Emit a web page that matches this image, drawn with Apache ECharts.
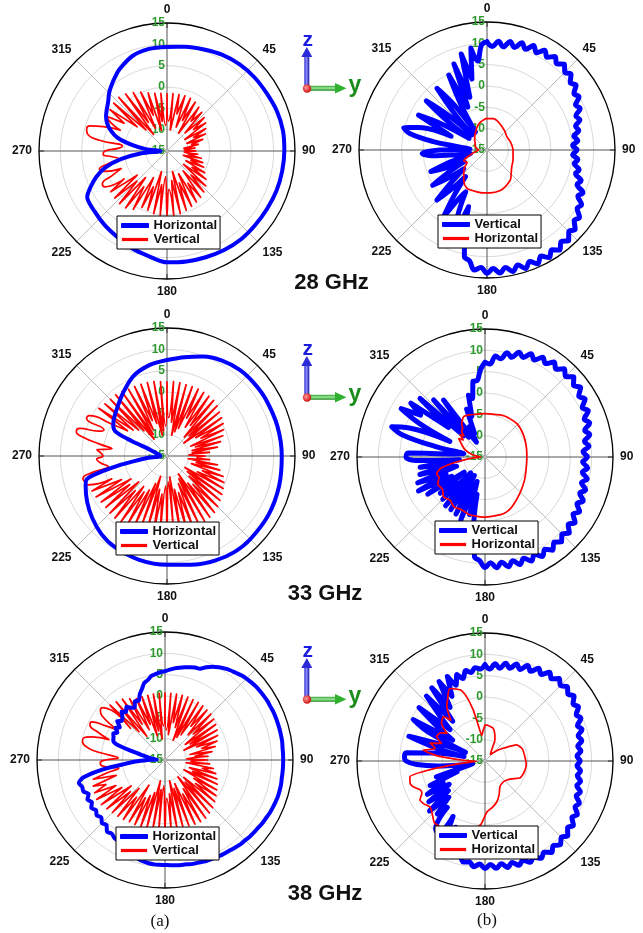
<!DOCTYPE html>
<html>
<head>
<meta charset="utf-8">
<script src="https://cdn.jsdelivr.net/npm/echarts@6.0.0/dist/echarts.min.js"></script>
<style>html,body{margin:0;padding:0;background:#fff}#main{width:643px;height:933px}</style>
</head>
<body>
<div id="main"></div>
<script>
// ---------- tick labels ----------
const angleLabels = ['0','45','90','135','180','225','270','315'];
const radialLabels = ['-15','-10','-5','0','5','10','15'];
const freqLabels = ['28 GHz','33 GHz','38 GHz'];
const panelLabels = ['(a)','(b)'];

// ---------- 28 GHz (a) ----------
const a28_hor_ang = [0,10,20,30,40,50,60,70,80,90,100,110,120,130,140,150,160,170,180,190,200,210,220,230,240,245,250,255,260,265,270,275,280,285,290,295,300,305,310,315,320,325,330,340,350,360];
const a28_hor_val = [9.4,9.8,10.3,11,11.5,11.8,12,12.4,12.6,12.5,12.4,12.3,12.1,12,12,11.8,11.5,11.3,11.1,10,9.2,8.3,7.7,7.1,6.6,4.7,2.6,0,-4,-9,-13.5,-10,-6.5,-3,-1,0.5,1.5,2.2,3,4.2,5.2,6.2,7.2,8.7,9.3,9.4];
// sampled every 3 deg
const a28_ver_val = [
 -1.6,-8,-1.5,-10,-1.5,-6,-1.4,-9,
 -1.5,-7,-1.8,-10,-2.3,-6,-2.8,-9,
 -3.3,-7,-3.8,-10,-4.5,-8,-5.2,-10,
 -6.2,-9,-7.5,-11,-8.4,-11,-8.2,-11,
 -7.7,-10,-6.8,-11,-6.2,-9,-5.6,-10,
 -4.8,-8,-3.7,-10,-2.8,-7,-2.1,-9,
 -1.6,-6,-1.2,-9,-0.8,-7,-0.4,-10,
 0,-8,0.1,-6,0.2,-9,0.2,-7,
 0,-10,-0.4,-6,-0.5,-8,0.8,-5,
 1.5,-7,1.6,-5,1.5,-6,1.3,-3,
 1.8,2,-1,-3.5,0.5,1.4,-1,-3.5,
 -2,0,-0.5,-3.5,-4.5,1,4,4.5,
 4,1,-3,0,1.2,-3,1.5,-6,
 1.8,-8,1.9,-10,1.5,-7,0.8,-9,
 0.1,-6,-0.7,-10,-1.2,-8,-1.4,-9];

// ---------- 28 GHz (b) ----------
// sampled every 3 deg
const b28_ver_val = [
 10.4,9.3,10.6,9.5,11,9.9,11.4,10.3,
 11.8,10.6,12,10.9,12.1,11,12.1,10.8,
 11.5,10.1,10.8,9.3,9.9,8.3,8.9,7.3,
 7.9,6.5,7,5.6,6.4,5.1,6.1,5.1,
 6.4,5.7,7.1,6.5,8.2,7.6,9.6,8.9,
 10.6,10.2,11.8,11.3,12.8,12.1,13.6,12.6,
 14,12.9,14.1,12.9,14.2,13,14.2,12.9,
 14.1,12.9,14,12.8,13.9,12.6,13.3,11.3,
 10.5,5,-1,6,2,-4,-2,3.7,
 -2,-7,-3,1.6,-4,-8,-4,0.2,
 -5,-9,-5,-0.9,-6,-10,-11,-8,
 -2,0.2,-4,-11,-9,-2,3.5,5.2,
 2,-6,-3,3,-3,-10,-4,3.3,
 -3,-10,-4,3.6,-2,-10,-3,4.7,
 -4,6.6,-2,8.3,2,9.2,6,9.6];
const b28_hor_ang = [0,12,20,33,45,56,70,90,110,124,135,142,152,162,175,189,200,208,216,225,232,238,245,252,260,270,280,290,300,310,320,330,340,348,355,360];
const b28_hor_val = [-7.6,-7.5,-7.8,-8.5,-9,-9.4,-9.2,-8.9,-8.5,-8,-7,-6.1,-5.5,-5,-4.9,-4.9,-4.9,-4.9,-5.8,-7.3,-8.3,-9.5,-9,-10.5,-12,-13,-12.5,-12,-11.8,-11.2,-10.6,-9.8,-8.8,-8.2,-7.8,-7.6];

// ---------- 33 GHz (a) ----------
const a33_hor_ang = [0,10,20,30,40,50,60,75,90,105,120,135,145,155,165,180,195,210,220,230,240,250,254,257,259,261,264,270,280,290,293,295,299,305,313,325,337,349,360];
const a33_hor_val = [7.5,8.5,9.8,10.8,11.4,11.6,11.7,11.8,11.9,12.2,12.5,12.6,12.5,12,11.3,10.5,10.2,9.6,8.9,7.8,6.6,5.3,4.5,0,-3.5,-7,-10,-13.5,-13,-11,-6,-2,-0.6,0.2,1.1,3,5.3,6.7,7.5];
// sampled every 2.5 deg
const a33_ver_val = [
 2.4,-6,2.5,-7,2.4,-10,2.3,-9,
 2.3,-8,2.3,-5,2.2,-7,2.1,-6,
 2,-9,1.6,-8,1,-10,0.6,-7,
 0.2,-6,-0.4,-9,-1.1,-8,-2,-9,
 -3,-9,-5,-10,-6,-8,-5,-10,
 -3,-8,-2.2,-9,-1,-6,-0.3,-7,
 0.2,-10,0.7,-9,1.2,-8,1.8,-6,
 2.3,-7,2.5,-10,2.6,-9,2.7,-8,
 2.8,-6,2.8,-7,2.8,-10,2.8,-9,
 2.8,-8,2.8,-6,2.9,-7,3,-10,
 3.1,-8,3.3,-6,3.5,-5,3.8,-6,
 4,-4,3.9,-6,3.7,-4,3.8,-5,
 4.2,-3,4.4,-1,4.8,5.2,5.4,3,
 -1,0,1,1.5,0,0.5,1.5,-2,
 1,5,7,6.5,2,1,5.8,5.5,
 0,-4,4.5,-5,4,-6,3.75,-7,
 3.7,-10,3.4,-9,3.1,-8,3,-6,
 2.9,-7,2.8,-10,2.7,-9,2.5,-8];

// ---------- 33 GHz (b) ----------
const b33_ver_val = [
 7.2,6.8,8.8,8.3,10,9.2,10.8,10,
 11.5,10.5,12,11.1,12.5,11.5,12.8,11.7,
 13,11.7,12.7,11.2,12.1,10.6,11.5,9.9,
 10.8,9.2,10.1,8.6,9.5,8,9,7.9,
 9.2,8.1,9.5,8.4,9.8,8.8,10.2,9.2,
 10.6,9.6,11.1,10.1,11.6,10.5,11.8,10.7,
 12,10.8,11.9,10.6,11.7,10.4,11.5,10.2,
 11.3,10,11.1,9.8,10.9,9.3,8.5,2,
 -6,-1,-9,0.9,-8,0,-10,-0.3,
 -7,-0.3,-10,-1,-6,-1.5,-9,1,
 -6,2.5,-5,1.9,-8,0.8,-7,0.4,
 -9,1,3.5,3,-8,-10,-3,5,
 8,4,-6,2,7.7,3,6.5,-4,
 5.5,-8,3,-9,1.5,-9,-11,-7,
 -9,-3,-5,0,-1,3,3,5.5];
const b33_hor_ang = [0,10,20,30,45,60,75,90,105,120,135,150,158,165,180,195,205,212,219,226,233,240,246,251,256,260,265,270,280,290,300,305,308,312,315,318,322,325,332,340,350,360];
const b33_hor_val = [-4.8,-4.8,-4.5,-4.3,-4.2,-4.6,-5,-5.2,-5,-4.3,-3.3,-1.9,-1.2,-1,-0.9,-1,-1.5,-1.2,-2,-1.5,-2.5,-2.2,-3.2,-3,-4.5,-8,-12,-14,-12,-10,-8.5,-7.5,-8.5,-7.2,-8,-6.8,-6.5,-5.5,-4.3,-4.5,-4.8,-4.8];

// ---------- 38 GHz (a) ----------
// sampled every 3 deg
const a38_hor_val = [
 5.8,6.2,6.6,6.9,7.2,7.5,7.8,7.9,
 8.8,9.5,10.1,10.6,11,11.3,11.7,12,
 12.2,12.4,12.5,12.6,12.7,12.7,12.8,12.8,
 12.8,12.8,12.8,12.8,12.7,12.7,12.7,12.7,
 12.7,12.7,12.8,12.8,12.8,12.7,12.6,12.5,
 12.3,12.2,12,11.9,11.8,11.6,11.5,11.3,
 11.1,11,10.9,10.7,10.6,10.5,10.3,10.2,
 10,9.9,9.8,9.7,9.6,9.6,9.6,9.5,
 9.3,9,8.6,8.1,7.6,7.9,7,6.8,
 6.3,6.6,5.5,5.9,5.1,5.6,5,5.6,
 4.8,5.4,4.6,5.5,5.4,5.9,4.5,0.4,
 -5,-8,-11,-13,-12,-11,-9.5,-7,
 -3,-2,-1.8,-1.4,-2.1,-1.2,-1.9,-0.6,
 -1.3,-0.9,0.2,-0.5,0.4,-0.4,-0.8,0.5,
 0.2,1.5,2.5,3.7,4.2,5,5.3,5.6];
// sampled every 2.5 deg
const a38_ver_val = [
 0.7,-8,0.7,-9,0.7,-6,0.7,-7,
 0.7,-10,0.6,-9,0.6,-8,0.5,-5,
 0.3,-7,0.2,-6,-0.1,-9,-0.5,-8,
 -0.9,-10,-1.4,-7,-2,-6,-2.8,-9,
 -3.8,-8,-4.8,-10,-5,-9,-4.5,-10,
 -3.5,-6,-2.7,-9,-2,-8,-1.5,-10,
 -1,-7,-0.4,-6,0.2,-9,0.8,-8,
 1.2,-10,1.6,-7,1.7,-6,1.6,-9,
 1.4,-8,1.2,-10,1.2,-7,1.3,-6,
 1.4,-9,1.5,-8,1.6,-10,1.7,-7,
 1.7,-6,1.7,-5,1.7,-8,2,-4,
 2.2,-6,2.4,-4,2.8,-5,3.2,-3,
 3.5,-2,3.2,0,2.9,-3,2.4,-1,
 -4,-2,0,0.2,-1,-4,-2,2,
 4,4.8,4.8,3,-1,2,4.4,4.4,
 1,-2,3,4.1,4.1,-4,3.2,-6,
 2.8,-8,2.4,-5,1.6,-7,0.9,-6,
 0.8,-9,0.7,-8,0.7,-10,0.7,-7];

// ---------- 38 GHz (b) ----------
const b38_ver_val = [
 7.6,6.6,7.9,7,8.4,7.5,8.9,8,
 9.5,8.6,10.1,9.2,10.7,9.8,11,10,
 11,10,10.8,9.6,10.3,9,9.6,8.2,
 8.9,7.6,8.2,7,7.6,6.6,7.3,6.6,
 7.5,6.9,7.9,7.3,8.5,7.9,9.2,8.7,
 10,9.3,10.6,9.9,11.1,10.3,11.4,10.5,
 11.5,10.5,11.3,10.3,11,9.9,10.7,9.6,
 10.5,9.4,10.3,9.3,10.2,9.2,9.9,8.9,
 9.2,7,3,7,2,5.5,0,5,
 4.7,-1,1.7,-3,2.5,-4,1.3,-5,
 0.6,-4,-0.9,-8,-3,-11,-12,-9,
 -4,1,3.5,3.9,3.5,-3,-10,-3,
 3.75,-5,-10,0,4.4,-6,-1,4.9,
 -4,0,5.5,-3,6.2,0,6.5,2,
 6.7,4,6.3,5,6.7,6,7,6.6];
const b38_hor_ang = [0,3,14,20,25,31,40,50,55,63,72,84,95,103,110,116,124,131,140,150,157,164,171,178,184,192,200,210,219,225,230,235,239,243,246,250,253,258,261,264,268,272,276,280,284,288,292,297,302,306,311,317,320,325,329,334,341,344,347,349,353,356,360];
const b38_hor_val = [-6.6,-6.6,-7.1,-8.3,-9.5,-12,-13,-11,-9.8,-6.7,-5.8,-5.6,-5.3,-5.4,-5.6,-5.9,-7.5,-8.2,-8.5,-8,-6.5,-5,-4,-3,0,1.5,2.5,3.5,3.75,2.5,1.8,2.5,2.8,1.6,1.6,2.8,3.3,3,-2,-9,-13,-10,-4,-0.3,-3,-1.5,-4,-2.3,-2.6,-4,-1.5,-0.75,-2.5,0.6,2,3.9,2.6,0.7,-2.7,-6,-9,-8,-6.6];

// ---------- styling / layout ----------
const BLUE = '#0000ff', RED = '#ff0000', GREEN = '#2e9a2e';
const CEN = [[167,151],[487,150],[167,456],[485,457],[165,760],[485,761]];
const RAD = 128;
const FONT = 'Arial, "Liberation Sans", sans-serif';

function sampled(vals, step){
  const ang = vals.map((_, i) => i * step).concat([360]);
  return {ang, vals: vals.concat([vals[0]])};
}
function mk(name, p, ang, vals, color, width, z, smooth){
  return {
    type:'line', name, coordinateSystem:'polar', polarIndex:p,
    data: vals.map((v,i)=>[v, ang[i]]),
    symbol:'none', showSymbol:false, smooth: smooth || false,
    lineStyle:{color, width, join:'round', cap:'round'}, itemStyle:{color},
    z, silent:true, animation:false
  };
}

const s_a28v = sampled(a28_ver_val, 3);
const s_b28v = sampled(b28_ver_val, 3);
const s_a33v = sampled(a33_ver_val, 2.5);
const s_b33v = sampled(b33_ver_val, 3);
const s_a38h = sampled(a38_hor_val, 3);
const s_a38v = sampled(a38_ver_val, 2.5);
const s_b38v = sampled(b38_ver_val, 3);

const series = [
  mk('Vertical',0,s_a28v.ang,s_a28v.vals,RED,1.7,2,0.5),
  mk('Horizontal',0,a28_hor_ang,a28_hor_val,BLUE,4,3,0.3),
  mk('Vertical',1,s_b28v.ang,s_b28v.vals,BLUE,5,2,0.4),
  mk('Horizontal',1,b28_hor_ang,b28_hor_val,RED,1.7,3,0.3),
  mk('Vertical',2,s_a33v.ang,s_a33v.vals,RED,1.7,2,0.5),
  mk('Horizontal',2,a33_hor_ang,a33_hor_val,BLUE,4,3,0.3),
  mk('Vertical',3,s_b33v.ang,s_b33v.vals,BLUE,5,2,0.4),
  mk('Horizontal',3,b33_hor_ang,b33_hor_val,RED,1.7,3,0.2),
  mk('Vertical',4,s_a38v.ang,s_a38v.vals,RED,1.7,2,0.5),
  mk('Horizontal',4,s_a38h.ang,s_a38h.vals,BLUE,4,3,0.3),
  mk('Vertical',5,s_b38v.ang,s_b38v.vals,BLUE,5,2,0.4),
  mk('Horizontal',5,b38_hor_ang,b38_hor_val,RED,1.7,3,0.2)
];

const polar = CEN.map(c => ({center:[c[0], c[1]], radius: RAD}));
const angleAxis = CEN.map((c,i) => ({
  polarIndex:i, type:'value', min:0, max:360, interval:45, startAngle:90, clockwise:true,
  axisLine:{show:true, lineStyle:{color:'#000', width:1.3}},
  axisTick:{show:true, inside:true, length:5, lineStyle:{color:'#000'}},
  axisLabel:{show:true, margin:7, color:'#111', fontSize:12, fontWeight:'bold', fontFamily:FONT,
    formatter: v => { const k = Math.round(v/45); return k < 8 ? angleLabels[k] : ''; }},
  splitLine:{show:true, lineStyle:{color:['#555','#bbb'], width:1}}
}));
const radiusAxis = CEN.map((c,i) => ({
  polarIndex:i, type:'value', min:-15, max:15, interval:5,
  axisLine:{show:false}, axisTick:{show:false},
  axisLabel:{show:true, color:GREEN, fontSize:12, fontWeight:'bold', fontFamily:FONT, margin:2,
    formatter: v => radialLabels[Math.round((v+15)/5)]},
  splitLine:{show:true, lineStyle:{color:'#cfcfcf', width:0.8}}
}));

const LEG = [[117,216,'a'],[438,215,'b'],[116,522,'a'],[435,521,'b'],[116,827,'a'],[435,826,'b']];
const legend = LEG.map(l => ({
  orient:'vertical', left:l[0], top:l[1], selectedMode:false,
  itemWidth:27, itemHeight:4, itemGap:1, padding:[3,3,3,4],
  borderColor:'#000', borderWidth:1, backgroundColor:'#fff',
  textStyle:{fontSize:13, fontWeight:'bold', color:'#111', fontFamily:FONT},
  data: l[2]==='a'
    ? [{name:'Horizontal', icon:'rect', itemStyle:{color:BLUE, borderColor:BLUE, borderWidth:1}},
       {name:'Vertical', icon:'rect', itemStyle:{color:RED, borderColor:'#fff', borderWidth:0.8}}]
    : [{name:'Vertical', icon:'rect', itemStyle:{color:BLUE, borderColor:BLUE, borderWidth:1}},
       {name:'Horizontal', icon:'rect', itemStyle:{color:RED, borderColor:'#fff', borderWidth:0.8}}]
}));

function txt(x, y, text, font, fill){
  return {type:'text', x, y, silent:true, z:10,
    style:{text, font, fill, textAlign:'center', textVerticalAlign:'middle', align:'center', verticalAlign:'middle'}};
}
function icon(dy){
  return [
    {type:'rect', shape:{x:304.3, y:55+dy, width:5, height:32}, z:10,
      style:{fill:{type:'linear',x:0,y:0,x2:1,y2:0,colorStops:[{offset:0,color:'#2b2bd0'},{offset:0.45,color:'#8a8aff'},{offset:1,color:'#1515a0'}]}}},
    {type:'polygon', shape:{points:[[301.3,57+dy],[312.3,57+dy],[306.8,47+dy]]}, z:10, style:{fill:'#2a2ad8'}},
    {type:'rect', shape:{x:309, y:85.8+dy, width:27, height:5}, z:10,
      style:{fill:{type:'linear',x:0,y:0,x2:0,y2:1,colorStops:[{offset:0,color:'#2aa02a'},{offset:0.45,color:'#9be89b'},{offset:1,color:'#1f8a1f'}]}}},
    {type:'polygon', shape:{points:[[335,83+dy],[335,93.6+dy],[346.5,88.3+dy]]}, z:10, style:{fill:'#2fb02f'}},
    {type:'circle', shape:{cx:307, cy:88.5+dy, r:4.2}, z:11,
      style:{fill:{type:'radial',x:0.4,y:0.4,r:0.6,colorStops:[{offset:0,color:'#ff9a9a'},{offset:1,color:'#d01010'}]}}},
    txt(307.7, 40.5+dy, 'z', 'bold 21px ' + FONT, '#1a1ae0'),
    txt(355, 85.5+dy, 'y', 'bold 23px ' + FONT, '#1c8c1c')
  ];
}

const graphic = [].concat(
  icon(0), icon(309), icon(611),
  [txt(331.5, 283, freqLabels[0], 'bold 22px ' + FONT, '#111'),
   txt(325, 594, freqLabels[1], 'bold 22px ' + FONT, '#111'),
   txt(325, 894, freqLabels[2], 'bold 22px ' + FONT, '#111'),
   txt(160, 922, panelLabels[0], '17px "Liberation Serif", "Times New Roman", serif', '#111'),
   txt(487, 921, panelLabels[1], '17px "Liberation Serif", "Times New Roman", serif', '#111')]
);

const chart = echarts.init(document.getElementById('main'), null, {renderer:'canvas'});
chart.setOption({
  backgroundColor:'#fff', animation:false,
  polar, angleAxis, radiusAxis, legend, series, graphic
});
</script>
</body>
</html>
